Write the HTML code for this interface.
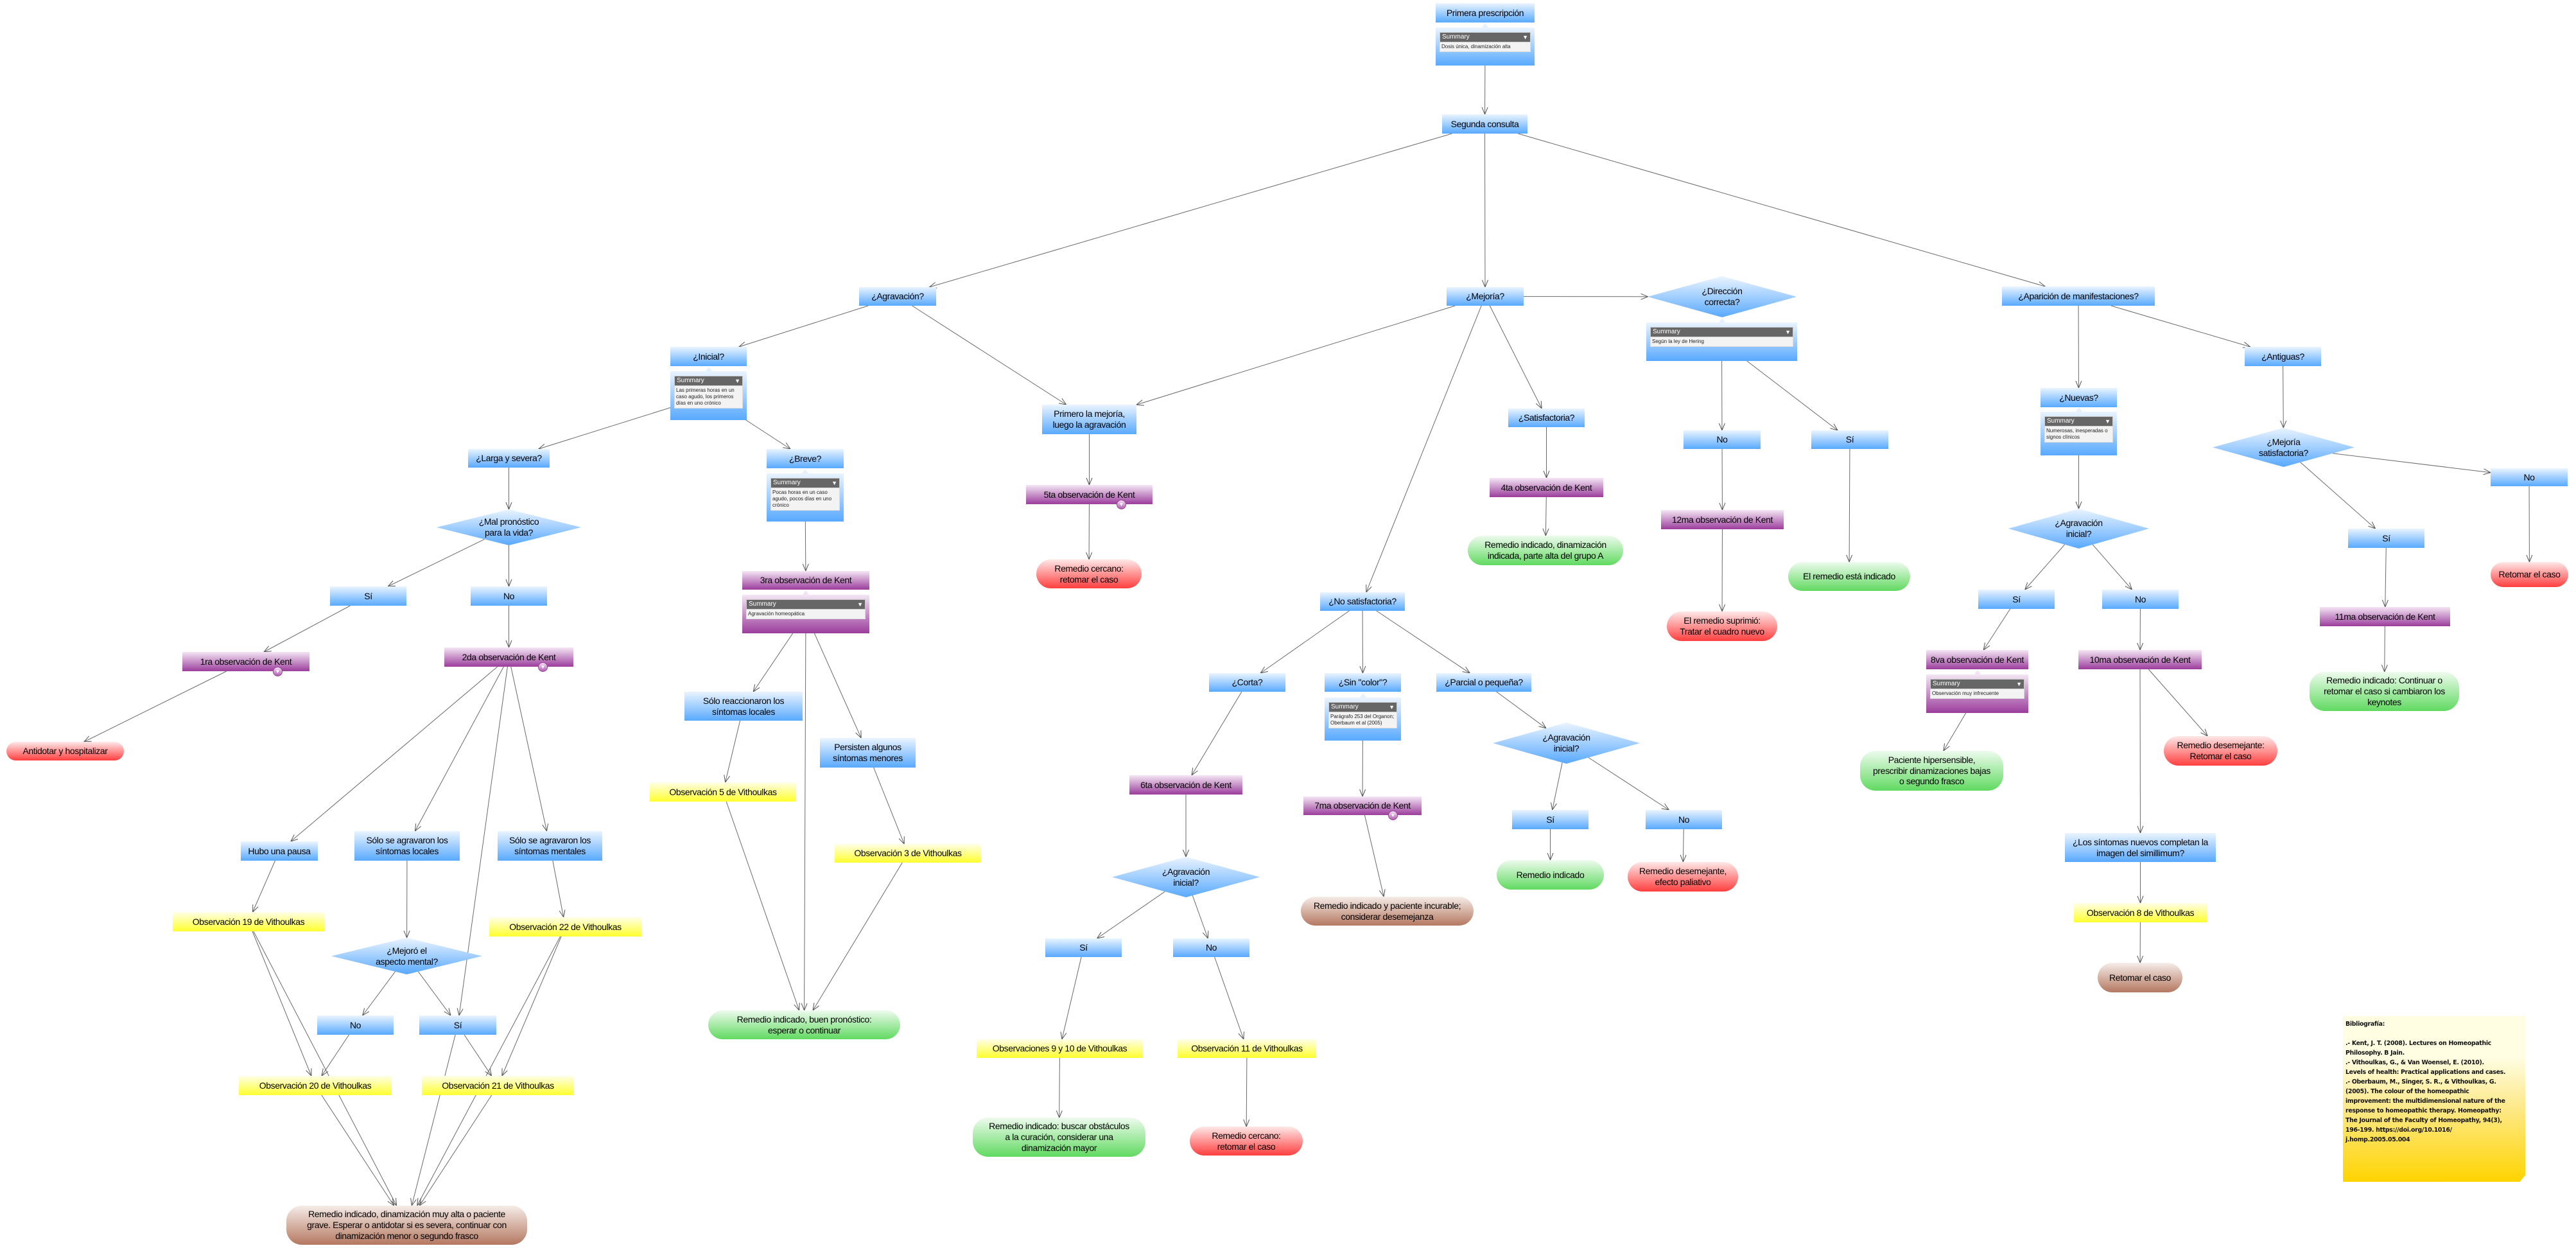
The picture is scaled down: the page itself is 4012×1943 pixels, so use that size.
<!DOCTYPE html>
<html><head><meta charset="utf-8">
<style>
html,body{margin:0;padding:0;background:#fff;}
body{width:4012px;height:1943px;position:relative;overflow:hidden;font-family:"Liberation Sans Narrow","Liberation Sans",sans-serif;}
svg#edges{position:absolute;left:0;top:0;z-index:1;}
.n{position:absolute;z-index:2;display:flex;align-items:center;justify-content:center;text-align:center;box-sizing:border-box;font-size:14px;line-height:1.2;color:#000;padding:0 2px;letter-spacing:-0.4px;white-space:nowrap;}
.b{background:linear-gradient(#eaf4ff,#58a9ff);}
.p{background:linear-gradient(#f4e6f4,#9b3d9c);}
.y{background:linear-gradient(#ffffe8,#ffff2e);}
.g{background:linear-gradient(#eefbee,#60da60);border-radius:24px;}
.r{background:linear-gradient(#ffe8e8,#ff3e3e);border-radius:24px;}
.br{background:linear-gradient(#f6ece8,#b47860);border-radius:24px;}
.sp{position:absolute;z-index:2;box-sizing:border-box;padding:7px 6px;}
.sp .h{background:#666;color:#fff;font-size:10px;height:14px;line-height:14px;padding:0 3px;position:relative;border:1px solid #ccc;}
.sp .h:after{content:"\25BC";position:absolute;right:3px;top:0;font-size:9px;}
.sp .t{background:#f3f3f3;color:#222;font-size:8px;line-height:10px;padding:2px 2px;border:1px solid #ddd;border-top:none;}
.sp:before{content:"";position:absolute;left:50%;top:-7px;margin-left:-5px;border-left:5px solid transparent;border-right:5px solid transparent;border-bottom:7px solid #e6f1ff;}
.spp:before{border-bottom-color:#f2e2f2;}
.d{position:absolute;z-index:2;display:flex;align-items:center;justify-content:center;text-align:center;font-size:14px;line-height:1.2;color:#000;letter-spacing:-0.4px;}
.d svg{position:absolute;left:0;top:0;width:100%;height:100%;z-index:-1;}
.mk{position:absolute;z-index:3;width:13px;height:13px;border-radius:50%;background:linear-gradient(#f3e0f3,#b060b0);border:1px solid #9b3d9c;color:#fff;font-size:8px;line-height:13px;text-align:center;}
.note{position:absolute;z-index:2;left:3649px;top:1582px;width:284px;height:258px;box-sizing:border-box;padding:5px 4px;background:linear-gradient(#fffde2 0%,#fffde2 25%,#fde98a 55%,#ffd400 100%);font-family:"DejaVu Sans",sans-serif;font-weight:bold;font-size:9.4px;line-height:15px;color:#111;white-space:nowrap;letter-spacing:-0.3px;overflow:hidden;clip-path:polygon(0 0,100% 0,100% 96%,97% 100%,0 100%);}
</style></head><body>
<svg width="0" height="0" style="position:absolute"><defs>
<linearGradient id="dg" x1="0" y1="0" x2="0" y2="1"><stop offset="0" stop-color="#eaf4ff"/><stop offset="1" stop-color="#58a9ff"/></linearGradient></defs></svg>
<svg id="edges" width="4012" height="1943"></svg>

<div class="n b" id="a1" style="left:2236px;top:5px;width:154px;height:30px">Primera prescripción</div>
<div class="sp b" id="s1" style="left:2236px;top:43px;width:154px;height:59px"><div class="h">Summary</div><div class="t">Dosis única, dinamización alta</div></div>
<div class="n b" id="a2" style="left:2246px;top:178px;width:133px;height:30px">Segunda consulta</div>
<div class="n b" id="a3" style="left:1338px;top:447px;width:120px;height:29px">¿Agravación?</div>
<div class="n b" id="a4" style="left:2253px;top:447px;width:120px;height:29px">¿Mejoría?</div>
<div class="n b" id="a5" style="left:3118px;top:446px;width:238px;height:30px">¿Aparición de manifestaciones?</div>
<div class="n b" id="a6" style="left:1044px;top:540px;width:119px;height:30px">¿Inicial?</div>
<div class="sp b" id="s6" style="left:1044px;top:578px;width:119px;height:76px"><div class="h">Summary</div><div class="t">Las primeras horas en un caso agudo, los primeros días en uno crónico</div></div>
<div class="n b" id="a7" style="left:1623px;top:630px;width:147px;height:46px">Primero la mejoría,<br>luego la agravación</div>
<div class="n b" id="a8" style="left:729px;top:699px;width:127px;height:29px">¿Larga y severa?</div>
<div class="n b" id="a9" style="left:1194px;top:699px;width:120px;height:30px">¿Breve?</div>
<div class="sp b" id="s9" style="left:1194px;top:737px;width:120px;height:75px"><div class="h">Summary</div><div class="t">Pocas horas en un caso agudo, pocos días en uno crónico</div></div>
<div class="n b" id="a10" style="left:2349px;top:636px;width:119px;height:29px">¿Satisfactoria?</div>
<div class="n b" id="a11" style="left:3496px;top:540px;width:119px;height:30px">¿Antiguas?</div>
<div class="n b" id="a12" style="left:3178px;top:604px;width:119px;height:30px">¿Nuevas?</div>
<div class="sp b" id="s12" style="left:3178px;top:641px;width:119px;height:68px"><div class="h">Summary</div><div class="t">Numerosas, inesperadas o signos clínicos</div></div>
<div class="n b" id="a13" style="left:2622px;top:670px;width:120px;height:29px">No</div>
<div class="n b" id="a14" style="left:2821px;top:670px;width:120px;height:29px">Sí</div>
<div class="n b" id="a15" style="left:514px;top:913px;width:119px;height:30px">Sí</div>
<div class="n b" id="a16" style="left:733px;top:913px;width:119px;height:30px">No</div>
<div class="n b" id="a17" style="left:2056px;top:922px;width:132px;height:29px">¿No satisfactoria?</div>
<div class="n b" id="a18" style="left:1066px;top:1077px;width:184px;height:45px">Sólo reaccionaron los<br>síntomas locales</div>
<div class="n b" id="a19" style="left:1277px;top:1149px;width:149px;height:46px">Persisten algunos<br>síntomas menores</div>
<div class="n b" id="a20" style="left:1883px;top:1048px;width:119px;height:29px">¿Corta?</div>
<div class="n b" id="a21" style="left:2063px;top:1048px;width:119px;height:29px">¿Sin "color"?</div>
<div class="sp b" id="s21" style="left:2063px;top:1086px;width:119px;height:67px"><div class="h">Summary</div><div class="t">Parágrafo 253 del Organon; Oberbaum et al (2005)</div></div>
<div class="n b" id="a22" style="left:2237px;top:1048px;width:148px;height:29px">¿Parcial o pequeña?</div>
<div class="n b" id="a23" style="left:2355px;top:1261px;width:119px;height:30px">Sí</div>
<div class="n b" id="a24" style="left:2563px;top:1261px;width:119px;height:30px">No</div>
<div class="n b" id="a25" style="left:3081px;top:918px;width:119px;height:30px">Sí</div>
<div class="n b" id="a26" style="left:3274px;top:918px;width:119px;height:30px">No</div>
<div class="n b" id="a27" style="left:3657px;top:823px;width:119px;height:30px">Sí</div>
<div class="n b" id="a28" style="left:3879px;top:729px;width:120px;height:28px">No</div>
<div class="n b" id="a29" style="left:375px;top:1310px;width:120px;height:30px">Hubo una pausa</div>
<div class="n b" id="a30" style="left:552px;top:1294px;width:164px;height:46px">Sólo se agravaron los<br>síntomas locales</div>
<div class="n b" id="a31" style="left:775px;top:1294px;width:163px;height:46px">Sólo se agravaron los<br>síntomas mentales</div>
<div class="n b" id="a32" style="left:494px;top:1581px;width:119px;height:30px">No</div>
<div class="n b" id="a33" style="left:653px;top:1581px;width:120px;height:30px">Sí</div>
<div class="n b" id="a34" style="left:1628px;top:1461px;width:119px;height:29px">Sí</div>
<div class="n b" id="a35" style="left:1827px;top:1461px;width:119px;height:29px">No</div>
<div class="n b" id="a36" style="left:3216px;top:1297px;width:235px;height:45px">¿Los síntomas nuevos completan la<br>imagen del simillimum?</div>

<div class="d" id="d1" style="left:2566px;top:430px;width:232px;height:64px"><svg viewBox="0 0 100 100" preserveAspectRatio="none"><polygon points="50,0 100,50 50,100 0,50" fill="url(#dg)"/></svg>¿Dirección<br>correcta?</div>
<div class="sp b" id="sd1" style="left:2564px;top:502px;width:235px;height:60px"><div class="h">Summary</div><div class="t">Según la ley de Hering</div></div>
<div class="d" id="d2" style="left:680px;top:793px;width:225px;height:56px"><svg viewBox="0 0 100 100" preserveAspectRatio="none"><polygon points="50,0 100,50 50,100 0,50" fill="url(#dg)"/></svg>¿Mal pronóstico<br>para la vida?</div>
<div class="d" id="d3" style="left:516px;top:1460px;width:235px;height:57px"><svg viewBox="0 0 100 100" preserveAspectRatio="none"><polygon points="50,0 100,50 50,100 0,50" fill="url(#dg)"/></svg>¿Mejoró el<br>aspecto mental?</div>
<div class="d" id="d4" style="left:1732px;top:1334px;width:230px;height:63px"><svg viewBox="0 0 100 100" preserveAspectRatio="none"><polygon points="50,0 100,50 50,100 0,50" fill="url(#dg)"/></svg>¿Agravación<br>inicial?</div>
<div class="d" id="d5" style="left:2325px;top:1125px;width:229px;height:64px"><svg viewBox="0 0 100 100" preserveAspectRatio="none"><polygon points="50,0 100,50 50,100 0,50" fill="url(#dg)"/></svg>¿Agravación<br>inicial?</div>
<div class="d" id="d6" style="left:3128px;top:792px;width:219px;height:62px"><svg viewBox="0 0 100 100" preserveAspectRatio="none"><polygon points="50,0 100,50 50,100 0,50" fill="url(#dg)"/></svg>¿Agravación<br>inicial?</div>
<div class="d" id="d7" style="left:3446px;top:666px;width:221px;height:61px"><svg viewBox="0 0 100 100" preserveAspectRatio="none"><polygon points="50,0 100,50 50,100 0,50" fill="url(#dg)"/></svg>¿Mejoría<br>satisfactoria?</div>

<div class="n p" id="p1" style="left:284px;top:1015px;width:198px;height:30px">1ra observación de Kent</div>
<div class="mk" style="left:425px;top:1038px">▼</div>
<div class="n p" id="p2" style="left:692px;top:1008px;width:201px;height:30px">2da observación de Kent</div>
<div class="mk" style="left:838px;top:1031px">▼</div>
<div class="n p" id="p3" style="left:1156px;top:889px;width:198px;height:29px">3ra observación de Kent</div>
<div class="sp p spp" id="sp3" style="left:1156px;top:926px;width:198px;height:60px"><div class="h">Summary</div><div class="t">Agravación homeopática</div></div>
<div class="n p" id="p4" style="left:1598px;top:755px;width:197px;height:30px">5ta observación de Kent</div>
<div class="mk" style="left:1739px;top:778px">▼</div>
<div class="n p" id="p5" style="left:2320px;top:744px;width:177px;height:30px">4ta observación de Kent</div>
<div class="n p" id="p6" style="left:2587px;top:794px;width:191px;height:30px">12ma observación de Kent</div>
<div class="n p" id="p7" style="left:1759px;top:1207px;width:176px;height:30px">6ta observación de Kent</div>
<div class="n p" id="p8" style="left:2030px;top:1240px;width:184px;height:29px">7ma observación de Kent</div>
<div class="mk" style="left:2162px;top:1262px">▼</div>
<div class="n p" id="p9" style="left:3000px;top:1012px;width:159px;height:30px">8va observación de Kent</div>
<div class="sp p spp" id="sp9" style="left:3000px;top:1050px;width:159px;height:60px"><div class="h">Summary</div><div class="t">Observación muy infrecuente</div></div>
<div class="n p" id="p10" style="left:3237px;top:1012px;width:192px;height:30px">10ma observación de Kent</div>
<div class="n p" id="p11" style="left:3613px;top:945px;width:203px;height:30px">11ma observación de Kent</div>

<div class="n y" id="y1" style="left:1012px;top:1218px;width:228px;height:30px">Observación 5 de Vithoulkas</div>
<div class="n y" id="y2" style="left:1300px;top:1314px;width:228px;height:29px">Observación 3 de Vithoulkas</div>
<div class="n y" id="y3" style="left:269px;top:1420px;width:236px;height:30px">Observación 19 de Vithoulkas</div>
<div class="n y" id="y4" style="left:762px;top:1428px;width:237px;height:30px">Observación 22 de Vithoulkas</div>
<div class="n y" id="y5" style="left:372px;top:1675px;width:238px;height:30px">Observación 20 de Vithoulkas</div>
<div class="n y" id="y6" style="left:657px;top:1675px;width:237px;height:30px">Observación 21 de Vithoulkas</div>
<div class="n y" id="y7" style="left:1521px;top:1618px;width:259px;height:29px">Observaciones 9 y 10 de Vithoulkas</div>
<div class="n y" id="y8" style="left:1834px;top:1618px;width:216px;height:29px">Observación 11 de Vithoulkas</div>
<div class="n y" id="y9" style="left:3230px;top:1406px;width:207px;height:30px">Observación 8 de Vithoulkas</div>

<div class="n r" id="t1" style="left:10px;top:1155px;width:183px;height:29px">Antidotar y hospitalizar</div>
<div class="n r" id="t2" style="left:1614px;top:871px;width:164px;height:45px">Remedio cercano:<br>retomar el caso</div>
<div class="n g" id="t3" style="left:2286px;top:834px;width:242px;height:46px">Remedio indicado, dinamización<br>indicada, parte alta del grupo A</div>
<div class="n g" id="t4" style="left:2785px;top:875px;width:190px;height:45px">El remedio está indicado</div>
<div class="n r" id="t5" style="left:2596px;top:952px;width:172px;height:46px">El remedio suprimió:<br>Tratar el cuadro nuevo</div>
<div class="n r" id="t6" style="left:3879px;top:875px;width:121px;height:39px">Retomar el caso</div>
<div class="n g" id="t7" style="left:3597px;top:1046px;width:233px;height:61px">Remedio indicado: Continuar o<br>retomar el caso si cambiaron los<br>keynotes</div>
<div class="n g" id="t8" style="left:2897px;top:1169px;width:223px;height:62px">Paciente hipersensible,<br>prescribir dinamizaciones bajas<br>o segundo frasco</div>
<div class="n r" id="t9" style="left:3370px;top:1146px;width:177px;height:46px">Remedio desemejante:<br>Retomar el caso</div>
<div class="n br" id="t10" style="left:3267px;top:1499px;width:132px;height:46px">Retomar el caso</div>
<div class="n g" id="t11" style="left:2331px;top:1339px;width:167px;height:46px">Remedio indicado</div>
<div class="n r" id="t12" style="left:2535px;top:1342px;width:172px;height:46px">Remedio desemejante,<br>efecto paliativo</div>
<div class="n br" id="t13" style="left:2026px;top:1396px;width:269px;height:45px">Remedio indicado y paciente incurable;<br>considerar desemejanza</div>
<div class="n g" id="t14" style="left:1515px;top:1740px;width:269px;height:61px">Remedio indicado: buscar obstáculos<br>a la curación, considerar una<br>dinamización mayor</div>
<div class="n r" id="t15" style="left:1853px;top:1754px;width:176px;height:45px">Remedio cercano:<br>retomar el caso</div>
<div class="n g" id="t16" style="left:1103px;top:1573px;width:299px;height:45px">Remedio indicado, buen pronóstico:<br>esperar o continuar</div>
<div class="n br" id="t17" style="left:446px;top:1877px;width:375px;height:61px">Remedio indicado, dinamización muy alta o paciente<br>grave. Esperar o antidotar si es severa, continuar con<br>dinamización menor o segundo frasco</div>

<div class="note">Bibliografía:<br><br>.- Kent, J. T. (2008). Lectures on Homeopathic<br>Philosophy. B Jain.<br>.- Vithoulkas, G., &amp; Van Woensel, E. (2010).<br>Levels of health: Practical applications and cases.<br>.- Oberbaum, M., Singer, S. R., &amp; Vithoulkas, G.<br>(2005). The colour of the homeopathic<br>improvement: the multidimensional nature of the<br>response to homeopathic therapy. Homeopathy:<br>The Journal of the Faculty of Homeopathy, 94(3),<br>196-199. https://doi.org/10.1016/<br>j.homp.2005.05.004</div>

<script>
var E="s1>a2 a2>a3 a2>a4 a2>a5 a3>a6 a3>a7 a4>a7 a4>d1 a4>a10 a4>a17 s6>a8 s6>a9 a8>d2 d2>a15 d2>a16 a15>p1 p1>t1 a16>p2 p2>a29 p2>a30 p2>a31 p2>a33 a29>y3 y3>y5 y3>t17 a30>d3 d3>a32 d3>a33 a31>y4 y4>y6 y4>t17 a32>y5 a33>y6 a33>t17 y5>t17 y6>t17 s9>p3 sp3>a18 sp3>t16 sp3>a19 a18>y1 y1>t16 a19>y2 y2>t16 a7>p4 p4>t2 a10>p5 p5>t3 sd1>a13 sd1>a14 a13>p6 p6>t5 a14>t4 a17>a20 a17>a21 a17>a22 a20>p7 p7>d4 d4>a34 d4>a35 a34>y7 y7>t14 a35>y8 y8>t15 s21>p8 p8>t13 a22>d5 d5>a23 d5>a24 a23>t11 a24>t12 a5>a12 a5>a11 s12>d6 d6>a25 d6>a26 a25>p9 sp9>t8 a26>p10 p10>a36 p10>t9 a36>y9 y9>t10 a11>d7 d7>a27 d7>a28 a27>p11 p11>t7 a28>t6".split(" ");
function R(id){var e=document.getElementById(id);return{x:e.offsetLeft,y:e.offsetTop,w:e.offsetWidth,h:e.offsetHeight,d:e.classList.contains('d')};}
function clip(r,dx,dy){var hw=r.w/2,hh=r.h/2,t;
 if(r.d){t=1/(Math.abs(dx)/hw+Math.abs(dy)/hh);}
 else{var tx=dx?hw/Math.abs(dx):1e9,ty=dy?hh/Math.abs(dy):1e9;t=Math.min(tx,ty);}
 return t;}
var s="";
E.forEach(function(p){var a=p.split(">"),A=R(a[0]),B=R(a[1]);
 var ax=A.x+A.w/2,ay=A.y+A.h/2,bx=B.x+B.w/2,by=B.y+B.h/2,dx=bx-ax,dy=by-ay;
 var L=Math.sqrt(dx*dx+dy*dy);var ux=dx/L,uy=dy/L;
 var ta=clip(A,ux,uy),tb=clip(B,-ux,-uy);
 var x1=ax+ux*ta,y1=ay+uy*ta,x2=bx-ux*tb,y2=by-uy*tb;
 s+='<line x1="'+x1+'" y1="'+y1+'" x2="'+x2+'" y2="'+y2+'" stroke="#6a6a6a" stroke-width="1"/>';
 var al=11,aw=4.5,px=-uy,py=ux;
 var bxx=x2-ux*al,byy=y2-uy*al;
 s+='<polyline points="'+(bxx+px*aw)+','+(byy+py*aw)+' '+x2+','+y2+' '+(bxx-px*aw)+','+(byy-py*aw)+'" fill="none" stroke="#555" stroke-width="1"/>';
});
document.getElementById('edges').innerHTML=s;
</script>
</body></html>
